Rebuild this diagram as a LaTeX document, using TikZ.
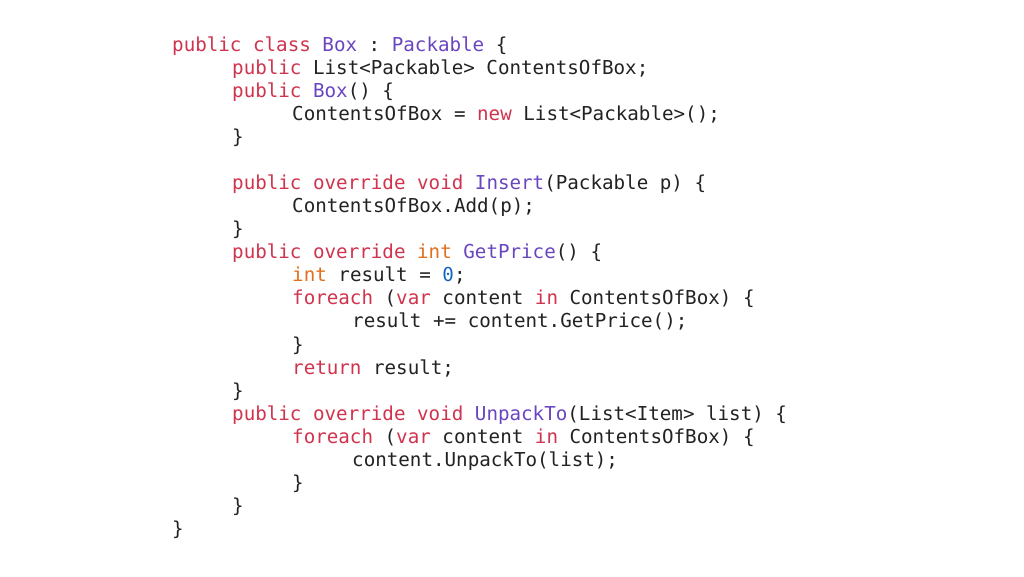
\documentclass[tikz,border=0pt]{standalone}
\usepackage{fontspec}
\setmonofont{DejaVu Sans Mono}
\definecolor{kw}{HTML}{D0334D}
\definecolor{ty}{HTML}{6A45C0}
\definecolor{ip}{HTML}{E0701E}
\definecolor{nm}{HTML}{1565C0}
\definecolor{tx}{HTML}{222222}
\newcommand{\K}[1]{\textcolor{kw}{#1}}
\newcommand{\T}[1]{\textcolor{ty}{#1}}
\newcommand{\I}[1]{\textcolor{ip}{#1}}
\newcommand{\N}[1]{\textcolor{nm}{#1}}
\begin{document}
\begin{tikzpicture}[x=1pt,y=1pt,
  cl/.style={anchor=base west,inner sep=0pt,font=\ttfamily\fontsize{19.2}{23}\selectfont,text=tx}]
\useasboundingbox (0,0) rectangle (1024,576);
\def\L#1#2#3{\node[cl] (#1) at (#2,{576-52-23*#1}) {#3};}
\L{0}{172}{\K{public class} \T{Box} : \T{Packable} \{}
\L{1}{232}{\K{public} List<Packable> ContentsOfBox;}
\L{2}{232}{\K{public} \T{Box}() \{}
\L{3}{292}{ContentsOfBox = \K{new} List<Packable>();}
\L{4}{232}{\}}
\L{6}{232}{\K{public override void} \T{Insert}(Packable p) \{}
\L{7}{292}{ContentsOfBox.Add(p);}
\L{8}{232}{\}}
\L{9}{232}{\K{public override} \I{int} \T{GetPrice}() \{}
\L{10}{292}{\I{int} result = \N{0};}
\L{11}{292}{\K{foreach} (\K{var} content \K{in} ContentsOfBox) \{}
\L{12}{352}{result += content.GetPrice();}
\L{13}{292}{\}}
\L{14}{292}{\K{return} result;}
\L{15}{232}{\}}
\L{16}{232}{\K{public override void} \T{UnpackTo}(List<Item> list) \{}
\L{17}{292}{\K{foreach} (\K{var} content \K{in} ContentsOfBox) \{}
\L{18}{352}{content.UnpackTo(list);}
\L{19}{292}{\}}
\L{20}{232}{\}}
\L{21}{172}{\}}
\end{tikzpicture}
\end{document}
